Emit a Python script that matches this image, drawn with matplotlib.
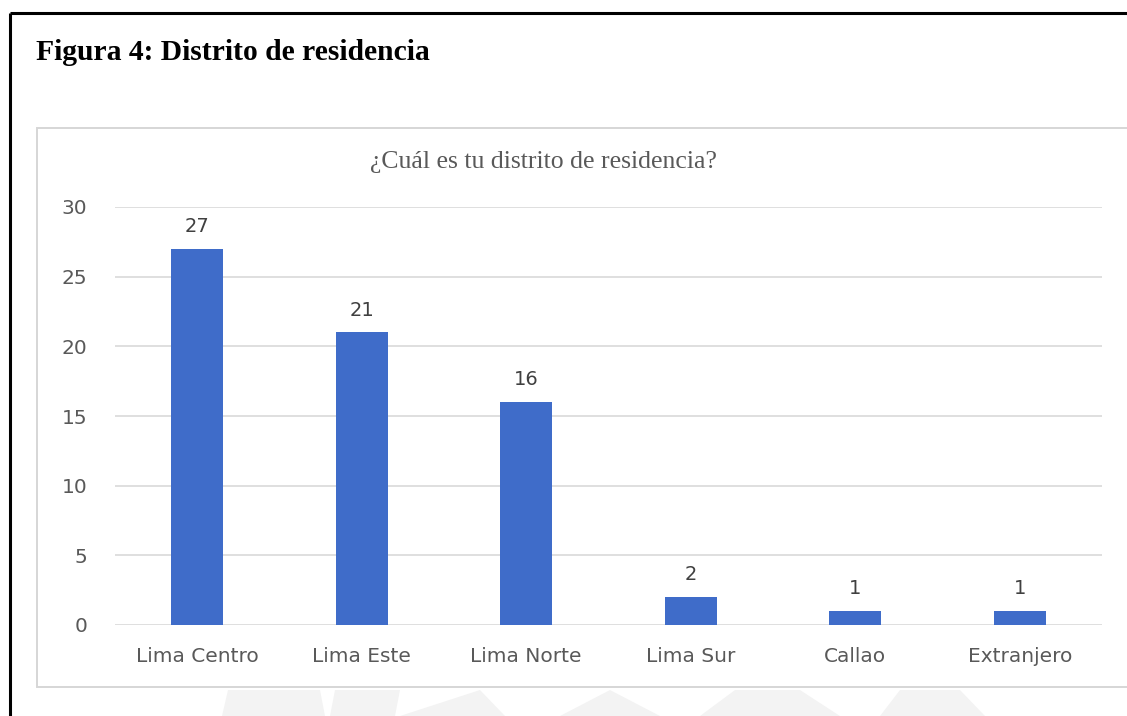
import matplotlib
matplotlib.use("Agg")
import matplotlib.pyplot as plt
from matplotlib.patches import Rectangle, Polygon
from matplotlib.lines import Line2D

# Survey responses by district of residence
categories = ["Lima Centro", "Lima Este", "Lima Norte", "Lima Sur", "Callao", "Extranjero"]
counts = [27, 21, 16, 2, 1, 1]
yticks = [0, 5, 10, 15, 20, 25, 30]

W, H = 1127, 716
fig = plt.figure(figsize=(W / 100, H / 100), dpi=100)
fig.patch.set_facecolor("white")

def fx(px):
    return px / W

def fy(py):
    return 1 - py / H

# faint background watermark shapes under the chart frame
wm = "#f3f3f3"
for pts in [
    [(222, 716), (228, 690), (320, 690), (325, 716)],
    [(330, 716), (335, 690), (400, 690), (395, 716)],
    [(400, 716), (480, 690), (505, 716)],
    [(560, 716), (610, 690), (660, 716)],
    [(700, 716), (735, 690), (800, 690), (840, 716)],
    [(880, 716), (900, 690), (960, 690), (985, 716)],
]:
    fig.patches.append(Polygon([(fx(x), fy(y)) for x, y in pts], closed=True,
                               transform=fig.transFigure, facecolor=wm,
                               edgecolor="none", zorder=0))

# outer document frame (top and left rules)
fig.add_artist(Line2D([fx(9.5), 1.0], [fy(13), fy(13)], transform=fig.transFigure,
                      color="black", lw=2.2, solid_capstyle="butt"))
fig.add_artist(Line2D([fx(9.5), fx(9.5)], [fy(13), 0.0], transform=fig.transFigure,
                      color="black", lw=2.2, solid_capstyle="butt"))

# chart frame
fig.patches.append(Rectangle((fx(37), fy(687)), fx(1127 - 37) + 0.01, (687 - 128) / H,
                             transform=fig.transFigure, facecolor="white",
                             edgecolor="#d6d6d6", lw=1.4, zorder=1))

fig.text(fx(36), fy(52), "Figura 4: Distrito de residencia", ha="left", va="center",
         fontsize=21.3, fontweight="bold", family="Liberation Serif", color="black")
fig.text(fx(543), fy(162), "¿Cuál es tu distrito de residencia?", ha="center", va="center",
         fontsize=18.5, family="Liberation Serif", color="#595959")

ax = fig.add_axes([fx(115), fy(625), fx(1102 - 115), (625 - 207) / H])
ax.set_facecolor("none")
ax.set_zorder(2)

x = range(len(categories))
bars = ax.bar(x, counts, width=0.316, color="#3f6cc9", zorder=3)
for xi, v in zip(x, counts):
    ax.annotate(str(v), (xi, v), xytext=(0, 16), textcoords="offset points",
                ha="center", va="center", fontsize=14, family="DejaVu Sans",
                color="#404040")

ax.set_xlim(-0.5, len(categories) - 0.5)
ax.set_ylim(0, 30)
ax.set_yticks(yticks)
ax.set_yticklabels([str(t) for t in yticks])
ax.set_xticks(list(x))
ax.set_xticklabels(categories)
ax.yaxis.grid(True, color="#d9d9d9", lw=1.2, zorder=0)
ax.set_axisbelow(True)
for s in ax.spines.values():
    s.set_visible(False)
ax.tick_params(axis="both", length=0, labelcolor="#595959")
ax.tick_params(axis="y", pad=20)
ax.tick_params(axis="x", pad=16)
for lab in ax.get_xticklabels() + ax.get_yticklabels():
    lab.set_fontfamily("DejaVu Sans")
    lab.set_fontsize(14.5)

fig.savefig("out.png", dpi=100, facecolor="white")
